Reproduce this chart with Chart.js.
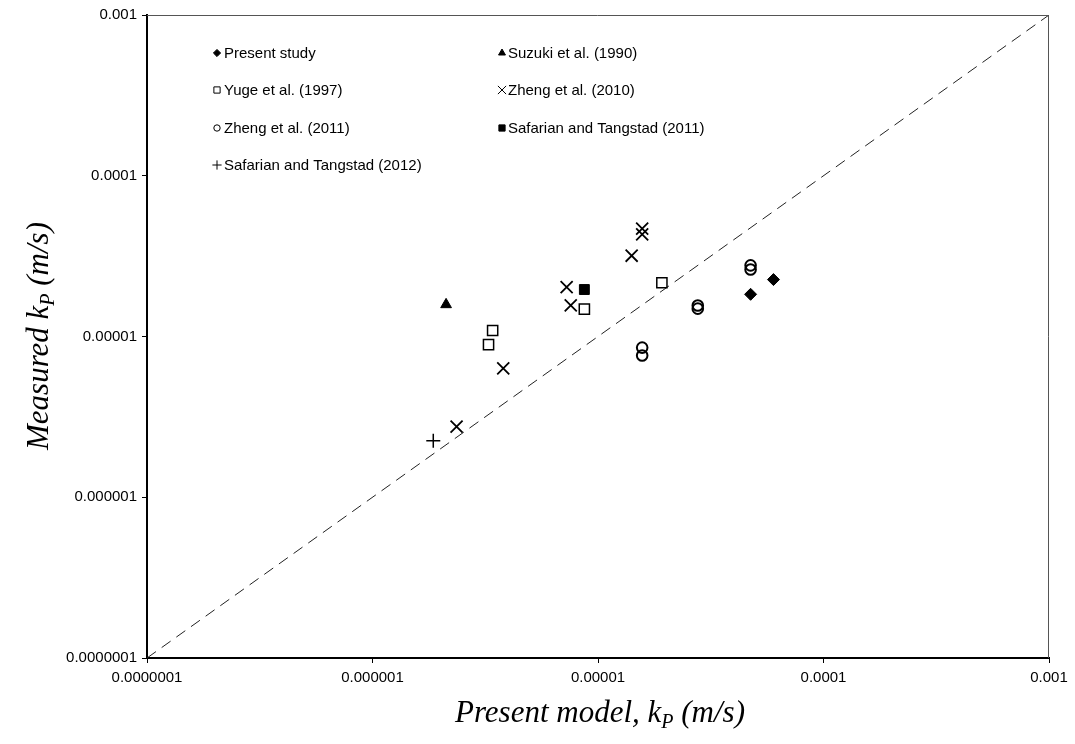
<!DOCTYPE html>
<html>
<head>
<meta charset="utf-8">
<title>Measured vs model kP</title>
<script src="https://cdn.jsdelivr.net/npm/chart.js@4.4.1/dist/chart.umd.min.js"></script>
<style>
  html, body { margin: 0; padding: 0; background: #fff; }
  #wrap { width: 1075px; height: 744px; }
</style>
</head>
<body>
<div id="wrap"><canvas id="kpChart" width="1075" height="744"></canvas></div>
<script>
// Axis ticks (both axes are log, one tick per decade)
const tickValues = [1e-7, 1e-6, 1e-5, 1e-4, 1e-3];
const tickLabels = ['0.0000001', '0.000001', '0.00001', '0.0001', '0.001'];

// Parity line end points
const parityLine = [1e-7, 1e-3];

// Series: present model kP (x) vs measured kP (y), m/s
const presentX = [4.75e-5, 6.0e-5];
const presentY = [1.83e-5, 2.26e-5];

const suzukiX = [2.12e-6];
const suzukiY = [1.58e-5];

const yugeX = [3.41e-6, 3.27e-6, 8.7e-6, 1.92e-5];
const yugeY = [1.09e-5, 8.9e-6, 1.48e-5, 2.16e-5];

const zheng2010X = [7.26e-6, 7.57e-6, 3.80e-6, 2.36e-6, 1.41e-5, 1.57e-5, 1.57e-5];
const zheng2010Y = [2.03e-5, 1.56e-5, 6.34e-6, 2.75e-6, 3.18e-5, 4.69e-5, 4.32e-5];

const zheng2011X = [1.57e-5, 1.57e-5, 2.77e-5, 2.77e-5, 4.75e-5, 4.75e-5];
const zheng2011Y = [8.53e-6, 7.62e-6, 1.56e-5, 1.49e-5, 2.77e-5, 2.61e-5];

const safarian2011X = [8.7e-6];
const safarian2011Y = [1.96e-5];

const safarian2012X = [1.86e-6];
const safarian2012Y = [2.25e-6];

function toPoints(xs, ys) {
  return xs.map((x, i) => ({ x: x, y: ys[i] }));
}

// Marker styles; legendRadius is the smaller size used in the key
const seriesDefs = [
  { label: 'Present study', x: presentX, y: presentY, pointStyle: 'rectRot', radius: 6, legendRadius: 3.6, fill: true, border: 1 },
  { label: 'Suzuki et al. (1990)', x: suzukiX, y: suzukiY, pointStyle: 'triangle', radius: 6.2, legendRadius: 4, fill: true, border: 1 },
  { label: 'Yuge et al. (1997)', x: yugeX, y: yugeY, pointStyle: 'rect', radius: 7.2, legendRadius: 4.4, fill: false, border: 1.5 },
  { label: 'Zheng et al. (2010)', x: zheng2010X, y: zheng2010Y, pointStyle: 'crossRot', radius: 8.5, legendRadius: 5.8, fill: false, border: 1.8 },
  { label: 'Zheng et al. (2011)', x: zheng2011X, y: zheng2011Y, pointStyle: 'circle', radius: 5.3, legendRadius: 3.2, fill: false, border: 2 },
  { label: 'Safarian and Tangstad (2011)', x: safarian2011X, y: safarian2011Y, pointStyle: 'rect', radius: 7, legendRadius: 4.4, fill: true, border: 1 },
  { label: 'Safarian and Tangstad (2012)', x: safarian2012X, y: safarian2012Y, pointStyle: 'cross', radius: 7, legendRadius: 4.6, fill: false, border: 1.5 },
];

const scatterSets = seriesDefs.map(s => ({
  type: 'scatter',
  label: s.label,
  data: toPoints(s.x, s.y),
  pointStyle: s.pointStyle,
  pointRadius: s.radius,
  pointHoverRadius: s.radius,
  pointBackgroundColor: s.fill ? '#000' : 'rgba(0,0,0,0)',
  pointBorderColor: '#000',
  pointBorderWidth: s.border,
  order: 1,
}));

const lineSet = {
  type: 'line',
  label: '1:1',
  data: toPoints(parityLine, parityLine),
  borderColor: '#222',
  borderWidth: 1,
  borderDash: [11, 7],
  pointRadius: 0,
  fill: false,
  order: 10,
};

// Top and right frame lines
const framePlugin = {
  id: 'frame',
  afterDraw(chart) {
    const { ctx, chartArea: a } = chart;
    ctx.save();
    ctx.strokeStyle = '#555';
    ctx.lineWidth = 1;
    ctx.beginPath();
    ctx.moveTo(a.left, a.top + 0.5);
    ctx.lineTo(a.right - 0.5, a.top + 0.5);
    ctx.lineTo(a.right - 0.5, a.bottom);
    ctx.stroke();
    ctx.restore();
  },
};

// Two-column key inside the plot
const keyPlugin = {
  id: 'key',
  afterDraw(chart) {
    const ctx = chart.ctx;
    const cols = [{ marker: 217, text: 224 }, { marker: 502, text: 508 }];
    const rows = [53, 90, 128, 165];
    ctx.save();
    ctx.font = '15px "Liberation Sans", Arial, sans-serif';
    ctx.textBaseline = 'middle';
    seriesDefs.forEach((s, i) => {
      const c = cols[i % 2];
      const y = rows[Math.floor(i / 2)];
      ctx.fillStyle = s.fill ? '#000' : 'rgba(0,0,0,0)';
      ctx.strokeStyle = '#000';
      Chart.helpers.drawPoint(ctx, {
        pointStyle: s.pointStyle,
        radius: s.legendRadius,
        rotation: 0,
        borderWidth: s.fill ? 0.6 : 1,
      }, c.marker, y);
      ctx.fillStyle = '#000';
      ctx.fillText(s.label, c.text, y + 1);
    });
    ctx.restore();
  },
};

// Helper: draw "prefix k_P (m/s)" with a subscript P, centred on 0
function drawKpTitle(ctx, prefix) {
  const big = 'italic 31px "Liberation Serif", "Times New Roman", serif';
  const small = 'italic 20px "Liberation Serif", "Times New Roman", serif';
  const head = prefix + 'k';
  const tail = ' (m/s)';
  ctx.font = big;
  const w1 = ctx.measureText(head).width;
  const w3 = ctx.measureText(tail).width;
  ctx.font = small;
  const w2 = ctx.measureText('P').width;
  let x = -(w1 + w2 + w3) / 2;
  ctx.font = big;
  ctx.fillText(head, x, 0);
  x += w1;
  ctx.font = small;
  ctx.fillText('P', x, 6);
  x += w2;
  ctx.font = big;
  ctx.fillText(tail, x, 0);
}

const titlesPlugin = {
  id: 'titles',
  afterDraw(chart) {
    const ctx = chart.ctx;
    ctx.save();
    ctx.fillStyle = '#000';
    ctx.textBaseline = 'alphabetic';
    ctx.textAlign = 'left';
    ctx.translate(600, 722);
    drawKpTitle(ctx, 'Present model, ');
    ctx.restore();

    ctx.save();
    ctx.fillStyle = '#000';
    ctx.textBaseline = 'alphabetic';
    ctx.textAlign = 'left';
    ctx.translate(48, 336);
    ctx.rotate(-Math.PI / 2);
    drawKpTitle(ctx, 'Measured ');
    ctx.restore();
  },
};

function logAxis(isX) {
  return {
    type: 'logarithmic',
    position: isX ? 'bottom' : 'left',
    min: 1e-7,
    max: 1e-3,
    afterBuildTicks: (scale) => {
      scale.ticks = tickValues.map(v => ({ value: v }));
    },
    afterFit: (scale) => {
      if (isX) scale.height = 86;
      else scale.width = 147;
    },
    border: { display: true, color: '#000', width: 2 },
    grid: {
      display: true,
      drawOnChartArea: false,
      drawTicks: true,
      tickLength: 5,
      color: '#000',
      lineWidth: 1,
    },
    ticks: {
      autoSkip: false,
      maxRotation: 0,
      minRotation: 0,
      padding: isX ? 6 : 5,
      color: '#000',
      font: { family: '"Liberation Sans", Arial, sans-serif', size: 15 },
      callback: (value, index) => tickLabels[index],
    },
  };
}

const ctx = document.getElementById('kpChart').getContext('2d');
const kpChart = new Chart(ctx, {
  data: { datasets: [lineSet, ...scatterSets] },
  options: {
    responsive: false,
    devicePixelRatio: 1,
    animation: false,
    layout: { padding: { top: 15, right: 26, left: 0, bottom: 0 } },
    scales: { x: logAxis(true), y: logAxis(false) },
    plugins: {
      legend: { display: false },
      tooltip: { enabled: false },
    },
  },
  plugins: [framePlugin, keyPlugin, titlesPlugin],
});
</script>
</body>
</html>
